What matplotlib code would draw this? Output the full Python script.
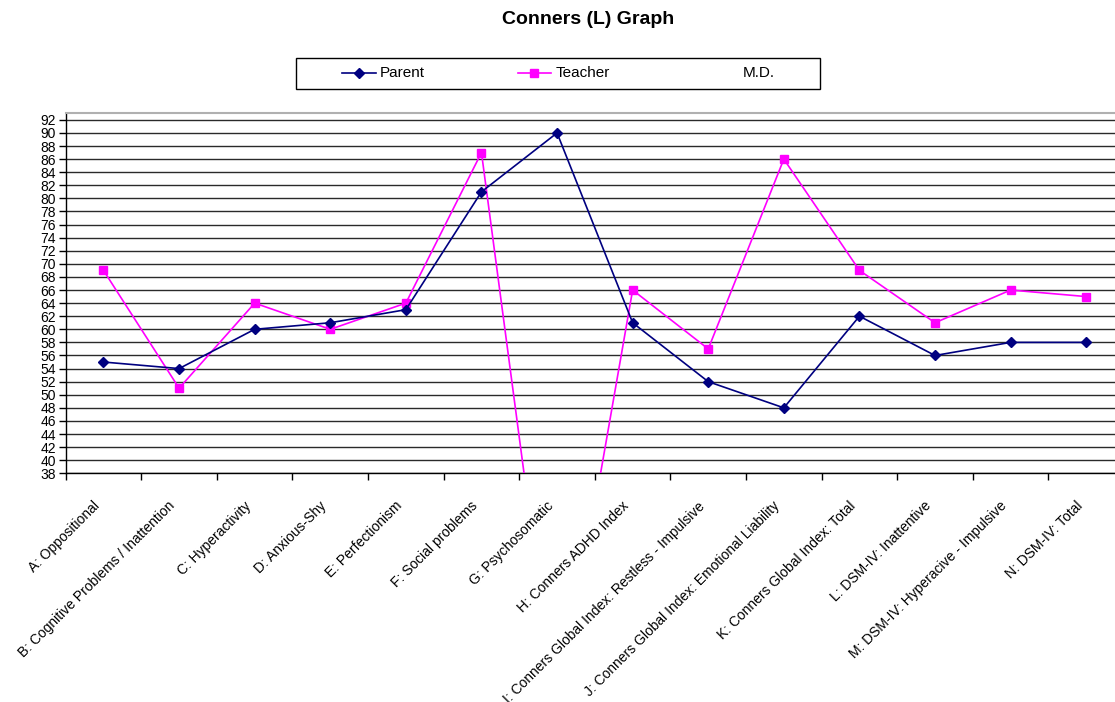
import numpy as np
import matplotlib
matplotlib.use("Agg")
import matplotlib.pyplot as plt
from matplotlib.lines import Line2D
from matplotlib.patches import Rectangle
from matplotlib.transforms import ScaledTranslation

plt.rcParams['font.family'] = ['Liberation Sans', 'DejaVu Sans']

# Scale names
categories = [
    "A: Oppositional",
    "B: Cognitive Problems / Inattention",
    "C: Hyperactivity",
    "D: Anxious-Shy",
    "E: Perfectionism",
    "F: Social problems",
    "G: Psychosomatic",
    "H: Conners ADHD Index",
    "I: Conners Global Index: Restless - Impulsive",
    "J: Conners Global Index: Emotional Liability",
    "K: Conners Global Index: Total",
    "L: DSM-IV: Inattentive",
    "M: DSM-IV: Hyperacive - Impulsive",
    "N: DSM-IV: Total",
]

# T-scores per rater
parent = [55, 54, 60, 61, 63, 81, 90, 61, 52, 48, 62, 56, 58, 58]
teacher = [69, 51, 64, 60, 64, 87, 0, 66, 57, 86, 69, 61, 66, 65]

series_names = ["Parent", "Teacher", "M.D."]
y_ticks = list(range(38, 93, 2))

W, H = 1115, 702
fig = plt.figure(figsize=(W / 100, H / 100), dpi=100)

left_px, right_px, top_px, bottom_px = 65.7, 1124.0, 113.3, 473.3
ax = fig.add_axes([left_px / W, 1 - bottom_px / H,
                   (right_px - left_px) / W, (bottom_px - top_px) / H])

navy = "#000080"
magenta = "#FF00FF"
x = np.arange(len(categories))

ax.set_xlim(-0.5, len(categories) - 0.5)
ax.set_ylim(38, 93)

ax.set_yticks(y_ticks)
ax.set_yticklabels([str(v) for v in y_ticks], fontsize=10)
ax.yaxis.grid(True, color="#2a2a2a", linewidth=1.0)
ax.set_axisbelow(True)

# Ticks between categories; rotated category names below each centre
ax.set_xticks(np.arange(-0.5, len(categories), 1.0))
ax.set_xticklabels([])
label_tf = ax.get_xaxis_transform() + ScaledTranslation(
    -6 / 100, -30.6 / 100, fig.dpi_scale_trans)
for xi, name in zip(x, categories):
    ax.text(xi, 0, name, transform=label_tf, rotation=45, ha="right",
            va="center", rotation_mode="anchor", fontsize=10, clip_on=False)

ax.tick_params(axis="x", which="major", length=5, width=1, direction="out",
               color="black")
ax.tick_params(axis="y", which="major", length=5, width=1, direction="out",
               color="black", pad=2)

for side in ("left", "bottom"):
    ax.spines[side].set_color("black")
    ax.spines[side].set_linewidth(1.0)
ax.spines["top"].set_color("#b0b0b0")
ax.spines["top"].set_linewidth(1.5)
ax.spines["right"].set_visible(False)

ax.plot(x, parent, color=navy, linewidth=1.2, marker="D", markersize=5.5,
        markerfacecolor=navy, markeredgecolor=navy, zorder=4)
ax.plot(x, teacher, color=magenta, linewidth=1.2, marker="s", markersize=6.3,
        markerfacecolor=magenta, markeredgecolor=magenta, zorder=3)

fig.text(588 / W, 1 - 20 / H, "Conners (L) Graph", ha="center", va="center",
         fontsize=14, fontweight="bold")

# Legend box
lx0, lx1, ly0, ly1 = 296, 820, 58, 88.5
fig.add_artist(Rectangle((lx0 / W, 1 - ly1 / H), (lx1 - lx0) / W,
                         (ly1 - ly0) / H, transform=fig.transFigure,
                         facecolor="white", edgecolor="black", linewidth=1.0))
ly = 1 - 73 / H
entries = [
    (342, 380, navy, "D", 5.5),
    (517.6, 555.5, magenta, "s", 6.3),
    (None, 742.4, None, None, None),
]
for name, (hx, tx, col, mk, ms) in zip(series_names, entries):
    if hx is not None:
        fig.add_artist(Line2D([hx / W, (hx + 33.5) / W], [ly, ly],
                              transform=fig.transFigure, color=col,
                              linewidth=1.2))
        fig.add_artist(Line2D([(hx + 16.75) / W], [ly],
                              transform=fig.transFigure, color=col,
                              marker=mk, markersize=ms, markerfacecolor=col,
                              markeredgecolor=col, linestyle="none"))
    fig.text(tx / W, ly, name, ha="left", va="center", fontsize=11)

fig.savefig("out.png", dpi=100)
